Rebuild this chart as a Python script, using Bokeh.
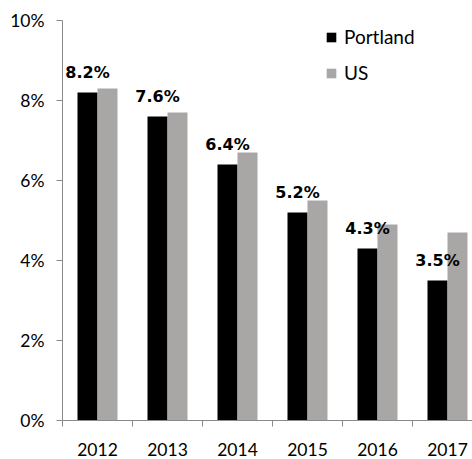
from bokeh.plotting import figure
from bokeh.models import Range1d, FixedTicker, Legend, LegendItem, ColumnDataSource
from bokeh.transform import dodge
from bokeh.core.properties import value
from bokeh.embed import file_html
from bokeh.resources import INLINE

years = ["2012", "2013", "2014", "2015", "2016", "2017"]
portland = [8.2, 7.6, 6.4, 5.2, 4.3, 3.5]
us = [8.3, 7.7, 6.7, 5.5, 4.9, 4.7]
y_ticks = [0, 2, 4, 6, 8, 10]

idx = list(range(len(years)))
src = ColumnDataSource(dict(
    x=idx, portland=portland, us=us,
    label=[f"{v:.1f}%" for v in portland],
))

AXIS = "#8a8a8a"
GRAY = "#a9a6a6"
FONT = "Lato"

p = figure(frame_width=410, frame_height=400,
           x_range=Range1d(-0.5, -0.5 + 410 / 70), y_range=Range1d(0, 10),
           output_backend="svg", toolbar_location=None,
           min_border_left=62, min_border_right=0, min_border_top=20, min_border_bottom=39)
p.outline_line_color = None
p.xgrid.visible = False
p.ygrid.visible = False

bw = 20 / 70
r1 = p.vbar(x=dodge("x", -bw / 2, range=p.x_range), top="portland", width=bw,
            source=src, fill_color="black", line_color=None)
r2 = p.vbar(x=dodge("x", bw / 2, range=p.x_range), top="us", width=bw,
            source=src, fill_color=GRAY, line_color=None)

p.text(x=dodge("x", -bw / 2, range=p.x_range), y="portland", text="label", source=src,
       text_font=value("DejaVu Sans"), text_font_style="bold", text_font_size="16px",
       text_align="center", text_baseline="alphabetic", y_offset=-20, text_color="black")

# y axis
ya = p.yaxis[0]
ya.ticker = FixedTicker(ticks=y_ticks)
ya.major_label_overrides = {t: f"{t}%" for t in y_ticks}
ya.axis_line_color = AXIS
ya.major_tick_line_color = AXIS
ya.major_tick_in = 0
ya.major_tick_out = 6
ya.minor_tick_line_color = None
ya.major_label_standoff = 12
ya.major_label_text_font = FONT
ya.major_label_text_font_size = "17.5px"
ya.major_label_text_color = "black"

# x axis
xa = p.xaxis[0]
xa.ticker = FixedTicker(ticks=idx, minor_ticks=[i - 0.5 for i in range(len(years) + 1)])
xa.major_label_overrides = {i: y for i, y in zip(idx, years)}
xa.axis_line_color = AXIS
xa.major_tick_in = 0
xa.major_tick_out = 0
xa.major_tick_line_color = None
xa.minor_tick_line_color = AXIS
xa.minor_tick_in = 0
xa.minor_tick_out = 6
xa.major_label_standoff = 16
xa.major_label_text_font = FONT
xa.major_label_text_font_size = "17.5px"
xa.major_label_text_color = "black"

legend = Legend(items=[LegendItem(label="Portland", renderers=[r1]),
                       LegendItem(label="US", renderers=[r2])],
                location=(263, 336))
legend.border_line_color = None
legend.background_fill_alpha = 0
legend.padding = 0
legend.margin = 0
legend.spacing = 13
legend.glyph_width = 12
legend.glyph_height = 12
legend.label_height = 20
legend.label_standoff = 7
legend.label_text_font = FONT
legend.label_text_font_size = "19px"
legend.label_text_color = "black"
p.add_layout(legend)

open("out.html", "w").write(file_html(p, INLINE))
